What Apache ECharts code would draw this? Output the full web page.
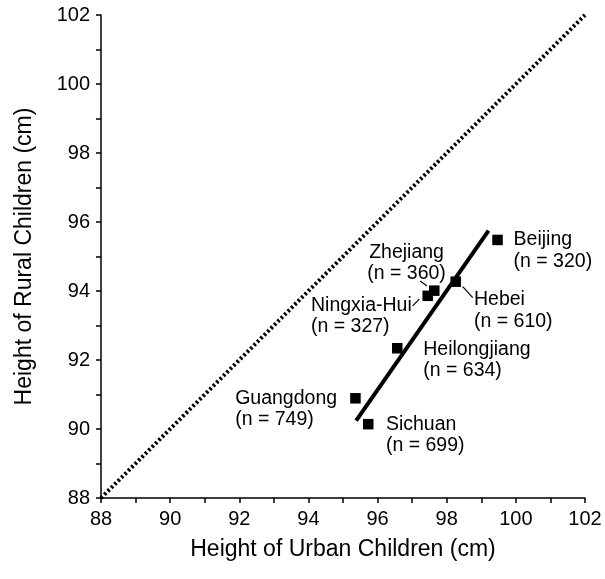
<!DOCTYPE html>
<html>
<head>
<meta charset="utf-8">
<script src="https://cdn.jsdelivr.net/npm/echarts@6/dist/echarts.min.js"></script>
<style>
  html, body { margin: 0; padding: 0; background: #fff; }
  #chart { width: 605px; height: 579px; }
</style>
</head>
<body>
<div id="chart"></div>
<script>
// Provinces, sample sizes and mean heights (cm)
const provinces   = ['Beijing', 'Hebei', 'Zhejiang', 'Ningxia-Hui', 'Heilongjiang', 'Guangdong', 'Sichuan'];
const sampleSizes = [320, 610, 360, 327, 634, 749, 699];
const urbanHeight = [99.47, 98.26, 97.64, 97.45, 96.57, 95.36, 95.73];
const ruralHeight = [95.48, 94.27, 94.01, 93.86, 92.34, 90.89, 90.14];

// Fitted line end points (urban, rural)
const fitUrban = [95.38, 99.21];
const fitRural = [90.24, 95.75];

// Line of equal height
const equalLine = [88, 102];

// Axis range and label step
const axisMin = 88;
const axisMax = 102;
const axisStep = 2;

const FONT = '"Liberation Sans", Arial, Helvetica, sans-serif';
const SYMBOL = 10.5;
const LINE_H = 21.3;

// Text block placement relative to each marker centre: [dx, dy, align]
const placement = {
  'Beijing':      [16, -10.7, 'left'],
  'Hebei':        [18.3, 7.6, 'left'],
  'Zhejiang':     [-27.7, -48.7, 'center'],
  'Ningxia-Hui':  [-116.7, -1, 'left'],
  'Heilongjiang': [26, -9.7, 'left'],
  'Guangdong':    [-120.3, -10.2, 'left'],
  'Sichuan':      [17.7, -10.5, 'left']
};

// Short leader strokes from a label to its marker, in pixels from the marker centre
const leaders = {
  'Zhejiang':    [[-14, -9.7], [-7.3, -4.7]],
  'Ningxia-Hui': [[-15, 10], [-8.4, 3.3]],
  'Hebei':       [[7, 5], [17, 16]]
};

const points = provinces.map((name, i) => {
  const p = placement[name];
  return {
    name: name,
    value: [urbanHeight[i], ruralHeight[i]],
    label: {
      position: [p[0] + SYMBOL / 2, p[1] + SYMBOL / 2],
      align: p[2],
      verticalAlign: 'top'
    }
  };
});

const axisCommon = {
  type: 'value',
  min: axisMin,
  max: axisMax,
  interval: axisStep,
  nameLocation: 'middle',
  nameTextStyle: { fontFamily: FONT, fontSize: 23, color: '#000' },
  axisLine: { show: true, lineStyle: { color: '#000', width: 1.5 } },
  axisTick: { show: true, length: 5, lineStyle: { color: '#000', width: 1.5 } },
  minorTick: { show: true, splitNumber: 2, length: 5, lineStyle: { color: '#000', width: 1.5 } },
  splitLine: { show: false },
  axisLabel: { fontFamily: FONT, fontSize: 20, color: '#000' }
};

const chart = echarts.init(document.getElementById('chart'), null, { renderer: 'canvas' });

chart.setOption({
  animation: false,
  backgroundColor: '#fff',
  grid: { left: 101, right: 20, top: 15, bottom: 81, containLabel: false },
  xAxis: Object.assign({}, axisCommon, {
    name: 'Height of Urban Children (cm)',
    nameGap: 40,
    axisLabel: Object.assign({}, axisCommon.axisLabel, { margin: 11 })
  }),
  yAxis: Object.assign({}, axisCommon, {
    name: 'Height of Rural Children (cm)',
    nameGap: 65,
    axisLabel: Object.assign({}, axisCommon.axisLabel, { margin: 11 })
  }),
  series: [
    {
      type: 'line',
      name: 'equal',
      data: equalLine.map(v => [v, v]),
      symbol: 'none',
      clip: false,
      lineStyle: { color: '#000', width: 4, type: [2.4, 2.4], cap: 'butt', opacity: 1 },
      z: 2
    },
    {
      type: 'line',
      name: 'fit',
      data: fitUrban.map((u, i) => [u, fitRural[i]]),
      symbol: 'none',
      clip: false,
      lineStyle: { color: '#000', width: 4, cap: 'butt', opacity: 1 },
      z: 3
    },
    {
      type: 'scatter',
      name: 'provinces',
      data: points,
      symbol: 'rect',
      symbolSize: SYMBOL,
      itemStyle: { color: '#000', opacity: 1 },
      z: 4,
      label: {
        show: true,
        fontFamily: FONT,
        fontSize: 19.5,
        lineHeight: LINE_H,
        color: '#000',
        opacity: 1,
        formatter: p => p.name + '\n(n = ' + sampleSizes[p.dataIndex] + ')'
      }
    }
  ]
});

// Leader strokes attached to the marker positions
const graphics = [];
Object.keys(leaders).forEach(name => {
  const i = provinces.indexOf(name);
  const c = chart.convertToPixel({ gridIndex: 0 }, [urbanHeight[i], ruralHeight[i]]);
  const seg = leaders[name];
  graphics.push({
    type: 'line',
    shape: { x1: c[0] + seg[0][0], y1: c[1] + seg[0][1], x2: c[0] + seg[1][0], y2: c[1] + seg[1][1] },
    style: { stroke: '#000', lineWidth: 1.2 },
    z: 5
  });
});
chart.setOption({ graphic: graphics });
</script>
</body>
</html>
